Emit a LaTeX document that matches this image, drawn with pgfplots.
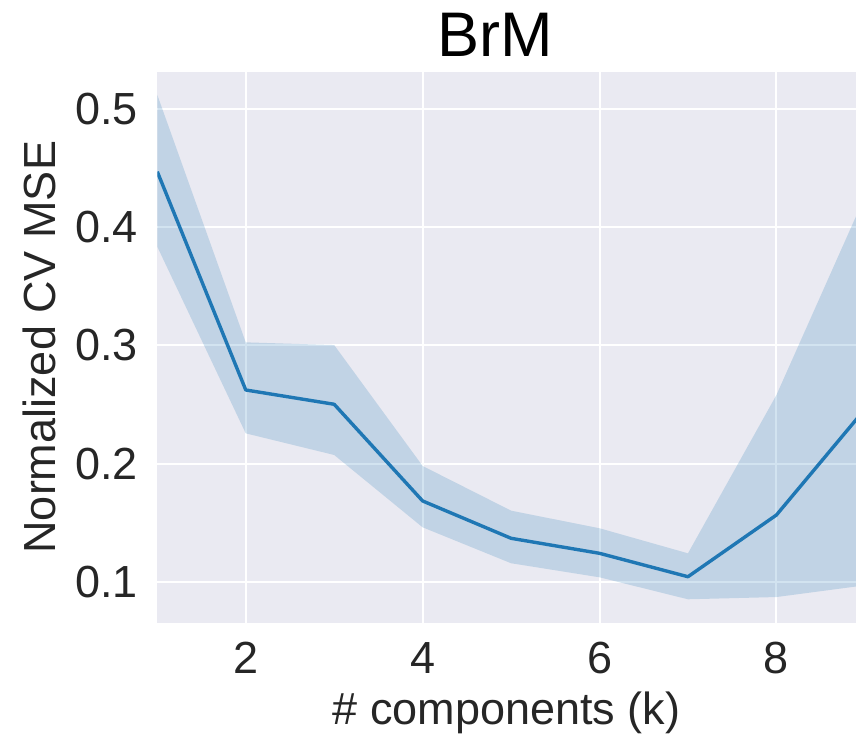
\documentclass[border=0pt]{standalone}
\usepackage{fontspec}
\setmainfont{Liberation Sans}
\usepackage{pgfplots}
\pgfplotsset{compat=1.18}
\usetikzlibrary{calc}
\definecolor{sbbg}{HTML}{EAEAF2}
\definecolor{tabblue}{HTML}{1F77B4}
\definecolor{txt}{HTML}{262626}
\begin{document}
\begin{tikzpicture}
\begin{axis}[
  name=ax,
  scale only axis,
  width=349.35pt, height=275.5pt,
  xmin=1, xmax=8.9,
  ymin=0.0654, ymax=0.5316,
  xtick={2,4,6,8},
  ytick={0.1,0.2,0.3,0.4,0.5},
  yticklabels={0.1,0.2,0.3,0.4,0.5},
  /pgf/number format/assume math mode=true,
  axis background/.style={fill=sbbg},
  axis line style={draw=none},
  major tick length=0pt,
  grid=major,
  major grid style={white, line width=1pt},
  tick label style={font=\fontsize{22.5pt}{27pt}\selectfont, text=txt, inner sep=0pt},
  xticklabel style={anchor=north, yshift=-9.5pt},
  yticklabel style={anchor=east, xshift=-9.5pt},
  xlabel={\# components (k)},
  ylabel={Normalized CV MSE},
  every axis x label/.style={at={(rel axis cs:0.5,0)}, anchor=base, yshift=-51.15pt, font=\fontsize{22.5pt}{27pt}\selectfont, text=txt, inner sep=0pt},
  every axis y label/.style={at={(rel axis cs:0,0.5)}, anchor=center, rotate=90, yshift=58.7pt, font=\fontsize{22.5pt}{27pt}\selectfont, text=txt, inner sep=0pt},
  title={BrM},
  every axis title/.style={at={(rel axis cs:0.483,1)}, anchor=base, yshift=7.5pt, font=\fontsize{31.5pt}{36pt}\selectfont, text=black, inner sep=0pt},
]
\addplot[draw=none, fill=tabblue, fill opacity=0.2] coordinates {
  (1,0.512) (2,0.3026) (3,0.3003) (4,0.198) (5,0.1602) (6,0.1453) (7,0.1241) (8,0.258) (9,0.426)
  (9,0.097) (8,0.0871) (7,0.0852) (6,0.1038) (5,0.1157) (4,0.1461) (3,0.2073) (2,0.2256) (1,0.3835)
} -- cycle;
\addplot[tabblue, line width=1.7pt, line join=round] coordinates {
  (1,0.447) (2,0.2623) (3,0.2502) (4,0.1684) (5,0.1368) (6,0.1241) (7,0.1043) (8,0.1565) (9,0.246)
};
\end{axis}
\pgfresetboundingbox
\path ($(ax.south west)+(-78.65pt,-57.15pt)$) rectangle ($(ax.north east)+(0pt,35.85pt)$);
\end{tikzpicture}
\end{document}
